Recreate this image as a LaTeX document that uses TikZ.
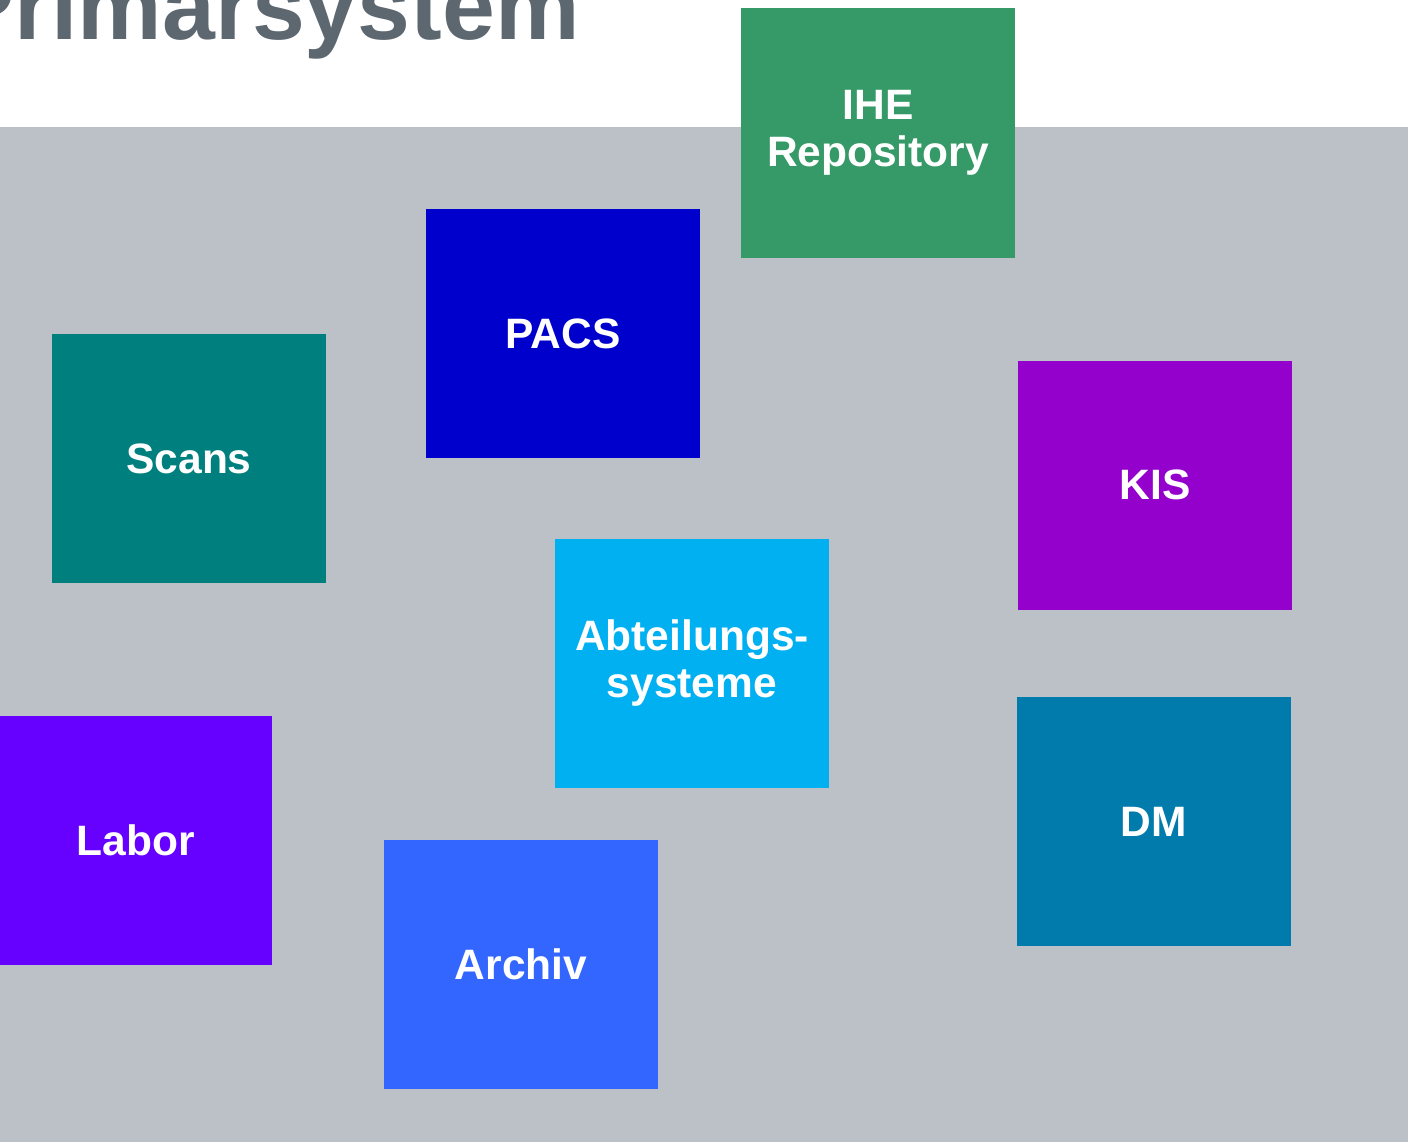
\documentclass[tikz,border=0pt]{standalone}
\usepackage{fontspec}
\setmainfont{Liberation Sans}
\definecolor{band}{HTML}{BCC1C8}
\definecolor{titlec}{HTML}{5D6770}
\definecolor{ihec}{HTML}{359A67}
\definecolor{pacsc}{HTML}{0000CC}
\definecolor{scansc}{HTML}{007F7F}
\definecolor{kisc}{HTML}{9400CC}
\definecolor{abtc}{HTML}{00B0F0}
\definecolor{laborc}{HTML}{6600FF}
\definecolor{archivc}{HTML}{3366FF}
\definecolor{dmc}{HTML}{007BAB}
\tikzset{
  sysbox/.style={fill=#1, draw=none, minimum width=274pt, minimum height=249pt,
    inner sep=0pt, text=white, align=center,
    font=\fontsize{42.5}{47}\selectfont\bfseries},
}
\begin{document}
\begin{tikzpicture}[x=1pt,y=-1pt]
\useasboundingbox (0,0) rectangle (1408,1142);
\fill[white] (0,0) rectangle (1408,127);
\fill[band] (0,127) rectangle (1408,1142);
\node[anchor=base west, inner sep=0pt, text=titlec, font=\fontsize{95}{100}\selectfont\bfseries] (title) at (-49,40) {Primarsystem};
\node[sysbox=ihec] (ihe) at (878,133) {IHE\\Repository};
\node[sysbox=pacsc] (pacs) at (563,333.5) {PACS};
\node[sysbox=scansc] (scans) at (189,458.5) {Scans};
\node[sysbox=kisc] (kis) at (1155,485) {KIS};
\node[sysbox=abtc] (abt) at (692,663.5) {Abteilungs-\\systeme};
\node[sysbox=laborc, minimum width=272pt] (labor) at (136,840.5) {Labor};
\node[sysbox=archivc] (archiv) at (521,964) {Archiv};
\node[sysbox=dmc] (dm) at (1154,821.5) {DM};
\end{tikzpicture}
\end{document}
